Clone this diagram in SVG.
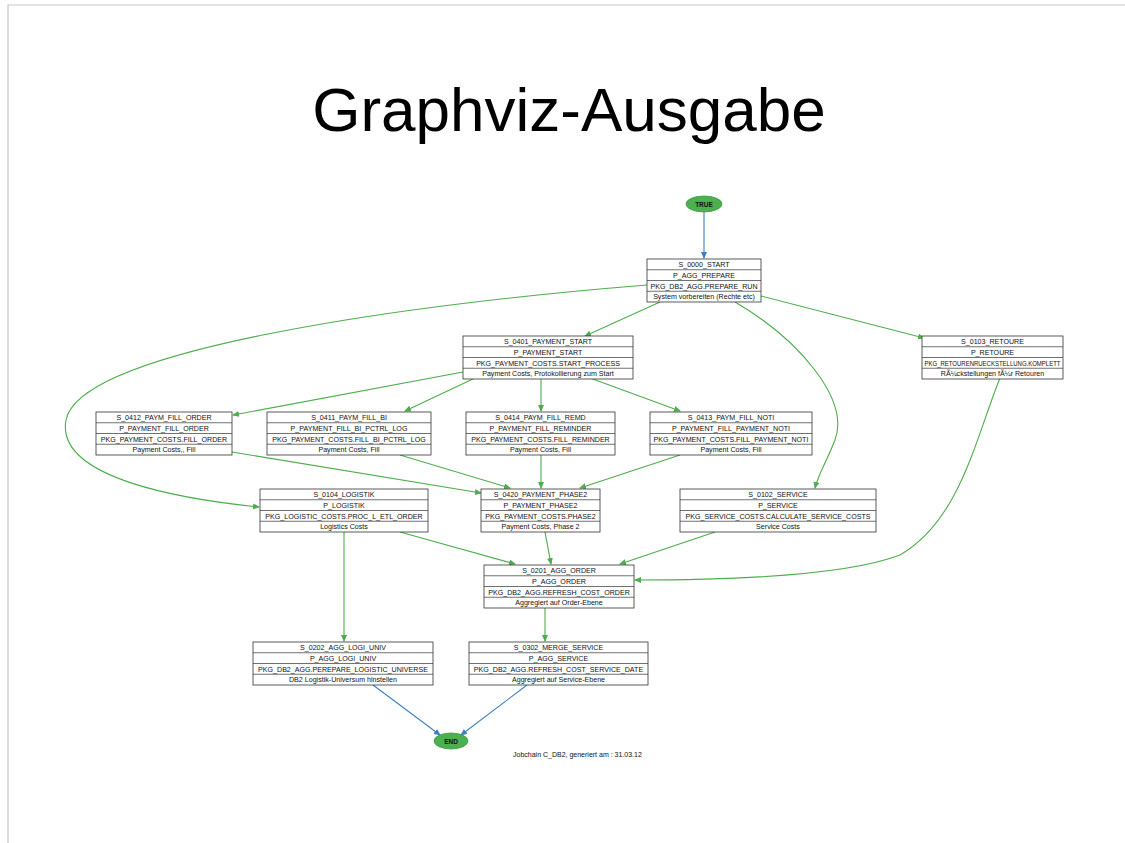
<svg xmlns="http://www.w3.org/2000/svg" width="1125" height="843" viewBox="0 0 1125 843">
<style>
.frame{stroke:#c8c8c8;stroke-width:1.2;fill:none}
.title{font-family:"Liberation Sans",Arial,sans-serif;font-size:62px;fill:#000}
.box rect{fill:#fff;stroke:#333;stroke-width:0.8}
.box line{stroke:#333;stroke-width:0.7}
.box text{font-family:"Liberation Sans",Arial,sans-serif;font-size:7.1px;fill:#111;text-anchor:middle}
.term ellipse{fill:#4caf50;stroke:#3f9a43;stroke-width:0.8}
.term text{font-family:"Liberation Sans",Arial,sans-serif;font-size:6.5px;font-weight:bold;fill:#111;text-anchor:middle}
.g{stroke:#4cae4c;stroke-width:1.1;fill:none;marker-end:url(#ag)}
.b{stroke:#3b82c4;stroke-width:1.1;fill:none;marker-end:url(#ab)}
.foot{font-family:"Liberation Sans",Arial,sans-serif;font-size:7px;fill:#111}
</style>
<defs>
<marker id="ag" markerWidth="7" markerHeight="6" refX="6" refY="3" orient="auto" markerUnits="userSpaceOnUse"><path d="M0,0 L7,3 L0,6 z" fill="#4cae4c"/></marker>
<marker id="ab" markerWidth="7" markerHeight="6" refX="6" refY="3" orient="auto" markerUnits="userSpaceOnUse"><path d="M0,0 L7,3 L0,6 z" fill="#3b82c4"/></marker>
</defs>
<rect width="1125" height="843" fill="#fff"/>
<path class="frame" d="M8,843 L8,5 L1125,5"/>
<text class="title" x="569" y="131" text-anchor="middle">Graphviz-Ausgabe</text>

<g id="connectors">
<path class="b" d="M704,212 L704,258"/>
<path class="g" d="M660,302 L585,336"/>
<path class="g" d="M761,296 L924,338"/>
<path class="g" d="M647,285 C400,305 80,350 66,420 C55,480 190,500 259,507"/>
<path class="g" d="M735,302 C800,340 850,400 835,440 C825,465 818,475 815,488"/>
<path class="g" d="M463,372 L233,415"/>
<path class="g" d="M475,378 L405,411"/>
<path class="g" d="M541,378 L541,411"/>
<path class="g" d="M590,378 L680,411"/>
<path class="g" d="M232,452 L481,493"/>
<path class="g" d="M400,455 L510,488"/>
<path class="g" d="M541,455 L541,488"/>
<path class="g" d="M680,455 L580,488"/>
<path class="g" d="M400,532 L515,564"/>
<path class="g" d="M344,532 L344,641"/>
<path class="g" d="M545,532 L551,564"/>
<path class="g" d="M715,532 L620,564"/>
<path class="g" d="M1000,378 C975,440 960,520 900,555 C840,578 700,580 635,580"/>
<path class="g" d="M545,608 L545,641"/>
<path class="b" d="M373,685 L440,735"/>
<path class="b" d="M527,685 L461,735"/>
</g>

<g id="TRUE" class="term"><ellipse cx="704" cy="204" rx="18" ry="8"/><text x="704" y="206.5">TRUE</text></g>
<g id="END" class="term"><ellipse cx="451" cy="741" rx="17" ry="8"/><text x="451" y="743.5">END</text></g>

<g id="S_0000_START" class="box" transform="translate(647,259)">
<rect width="114" height="43"/><line x1="0" y1="10.75" x2="114" y2="10.75"/><line x1="0" y1="21.5" x2="114" y2="21.5"/><line x1="0" y1="32.25" x2="114" y2="32.25"/>
<text x="57" y="8">S_0000_START</text><text x="57" y="18.75">P_AGG_PREPARE</text><text x="57" y="29.5">PKG_DB2_AGG.PREPARE_RUN</text><text x="57" y="40.25">System vorbereiten (Rechte etc)</text>
</g>
<g id="S_0401_PAYMENT_START" class="box" transform="translate(463,336)">
<rect width="170" height="43"/><line x1="0" y1="10.75" x2="170" y2="10.75"/><line x1="0" y1="21.5" x2="170" y2="21.5"/><line x1="0" y1="32.25" x2="170" y2="32.25"/>
<text x="85" y="8">S_0401_PAYMENT_START</text><text x="85" y="18.75">P_PAYMENT_START</text><text x="85" y="29.5">PKG_PAYMENT_COSTS.START_PROCESS</text><text x="85" y="40.25">Payment Costs, Protokollierung zum Start</text>
</g>
<g id="S_0103_RETOURE" class="box" transform="translate(922,336)">
<rect width="141" height="43"/><line x1="0" y1="10.75" x2="141" y2="10.75"/><line x1="0" y1="21.5" x2="141" y2="21.5"/><line x1="0" y1="32.25" x2="141" y2="32.25"/>
<text x="70.5" y="8">S_0103_RETOURE</text><text x="70.5" y="18.75">P_RETOURE</text><text x="70.5" y="29.5" textLength="136" lengthAdjust="spacingAndGlyphs">PKG_RETOURENRUECKSTELLUNG.KOMPLETT</text><text x="70.5" y="40.25">RÃ¼ckstellungen fÃ¼r Retouren</text>
</g>
<g id="S_0412_PAYM_FILL_ORDER" class="box" transform="translate(96,412)">
<rect width="136" height="43"/><line x1="0" y1="10.75" x2="136" y2="10.75"/><line x1="0" y1="21.5" x2="136" y2="21.5"/><line x1="0" y1="32.25" x2="136" y2="32.25"/>
<text x="68" y="8">S_0412_PAYM_FILL_ORDER</text><text x="68" y="18.75">P_PAYMENT_FILL_ORDER</text><text x="68" y="29.5">PKG_PAYMENT_COSTS.FILL_ORDER</text><text x="68" y="40.25">Payment Costs,, Fill</text>
</g>
<g id="S_0411_PAYM_FILL_BI" class="box" transform="translate(267,412)">
<rect width="164" height="43"/><line x1="0" y1="10.75" x2="164" y2="10.75"/><line x1="0" y1="21.5" x2="164" y2="21.5"/><line x1="0" y1="32.25" x2="164" y2="32.25"/>
<text x="82" y="8">S_0411_PAYM_FILL_BI</text><text x="82" y="18.75">P_PAYMENT_FILL_BI_PCTRL_LOG</text><text x="82" y="29.5">PKG_PAYMENT_COSTS.FILL_BI_PCTRL_LOG</text><text x="82" y="40.25">Payment Costs, Fill</text>
</g>
<g id="S_0414_PAYM_FILL_REMD" class="box" transform="translate(466,412)">
<rect width="149" height="43"/><line x1="0" y1="10.75" x2="149" y2="10.75"/><line x1="0" y1="21.5" x2="149" y2="21.5"/><line x1="0" y1="32.25" x2="149" y2="32.25"/>
<text x="74.5" y="8">S_0414_PAYM_FILL_REMD</text><text x="74.5" y="18.75">P_PAYMENT_FILL_REMINDER</text><text x="74.5" y="29.5">PKG_PAYMENT_COSTS.FILL_REMINDER</text><text x="74.5" y="40.25">Payment Costs, Fill</text>
</g>
<g id="S_0413_PAYM_FILL_NOTI" class="box" transform="translate(650,412)">
<rect width="162" height="43"/><line x1="0" y1="10.75" x2="162" y2="10.75"/><line x1="0" y1="21.5" x2="162" y2="21.5"/><line x1="0" y1="32.25" x2="162" y2="32.25"/>
<text x="81" y="8">S_0413_PAYM_FILL_NOTI</text><text x="81" y="18.75">P_PAYMENT_FILL_PAYMENT_NOTI</text><text x="81" y="29.5">PKG_PAYMENT_COSTS.FILL_PAYMENT_NOTI</text><text x="81" y="40.25">Payment Costs, Fill</text>
</g>
<g id="S_0104_LOGISTIK" class="box" transform="translate(260,489)">
<rect width="168" height="43"/><line x1="0" y1="10.75" x2="168" y2="10.75"/><line x1="0" y1="21.5" x2="168" y2="21.5"/><line x1="0" y1="32.25" x2="168" y2="32.25"/>
<text x="84" y="8">S_0104_LOGISTIK</text><text x="84" y="18.75">P_LOGISTIK</text><text x="84" y="29.5">PKG_LOGISTIC_COSTS.PROC_L_ETL_ORDER</text><text x="84" y="40.25">Logistics Costs</text>
</g>
<g id="S_0420_PAYMENT_PHASE2" class="box" transform="translate(481,489)">
<rect width="119" height="43"/><line x1="0" y1="10.75" x2="119" y2="10.75"/><line x1="0" y1="21.5" x2="119" y2="21.5"/><line x1="0" y1="32.25" x2="119" y2="32.25"/>
<text x="59.5" y="8">S_0420_PAYMENT_PHASE2</text><text x="59.5" y="18.75">P_PAYMENT_PHASE2</text><text x="59.5" y="29.5">PKG_PAYMENT_COSTS.PHASE2</text><text x="59.5" y="40.25">Payment Costs, Phase 2</text>
</g>
<g id="S_0102_SERVICE" class="box" transform="translate(680,489)">
<rect width="196" height="43"/><line x1="0" y1="10.75" x2="196" y2="10.75"/><line x1="0" y1="21.5" x2="196" y2="21.5"/><line x1="0" y1="32.25" x2="196" y2="32.25"/>
<text x="98" y="8">S_0102_SERVICE</text><text x="98" y="18.75">P_SERVICE</text><text x="98" y="29.5">PKG_SERVICE_COSTS.CALCULATE_SERVICE_COSTS</text><text x="98" y="40.25">Service Costs</text>
</g>
<g id="S_0201_AGG_ORDER" class="box" transform="translate(484,565)">
<rect width="150" height="43"/><line x1="0" y1="10.75" x2="150" y2="10.75"/><line x1="0" y1="21.5" x2="150" y2="21.5"/><line x1="0" y1="32.25" x2="150" y2="32.25"/>
<text x="75" y="8">S_0201_AGG_ORDER</text><text x="75" y="18.75">P_AGG_ORDER</text><text x="75" y="29.5">PKG_DB2_AGG.REFRESH_COST_ORDER</text><text x="75" y="40.25">Aggregiert auf Order-Ebene</text>
</g>
<g id="S_0202_AGG_LOGI_UNIV" class="box" transform="translate(253,642)">
<rect width="180" height="43"/><line x1="0" y1="10.75" x2="180" y2="10.75"/><line x1="0" y1="21.5" x2="180" y2="21.5"/><line x1="0" y1="32.25" x2="180" y2="32.25"/>
<text x="90" y="8">S_0202_AGG_LOGI_UNIV</text><text x="90" y="18.75">P_AGG_LOGI_UNIV</text><text x="90" y="29.5">PKG_DB2_AGG.PEREPARE_LOGISTIC_UNIVERSE</text><text x="90" y="40.25">DB2 Logistik-Universum hinstellen</text>
</g>
<g id="S_0302_MERGE_SERVICE" class="box" transform="translate(469,642)">
<rect width="179" height="43"/><line x1="0" y1="10.75" x2="179" y2="10.75"/><line x1="0" y1="21.5" x2="179" y2="21.5"/><line x1="0" y1="32.25" x2="179" y2="32.25"/>
<text x="89.5" y="8">S_0302_MERGE_SERVICE</text><text x="89.5" y="18.75">P_AGG_SERVICE</text><text x="89.5" y="29.5">PKG_DB2_AGG.REFRESH_COST_SERVICE_DATE</text><text x="89.5" y="40.25">Aggregiert auf Service-Ebene</text>
</g>
<text class="foot" x="513" y="757">Jobchain C_DB2, generiert am : 31.03.12</text>
</svg>
